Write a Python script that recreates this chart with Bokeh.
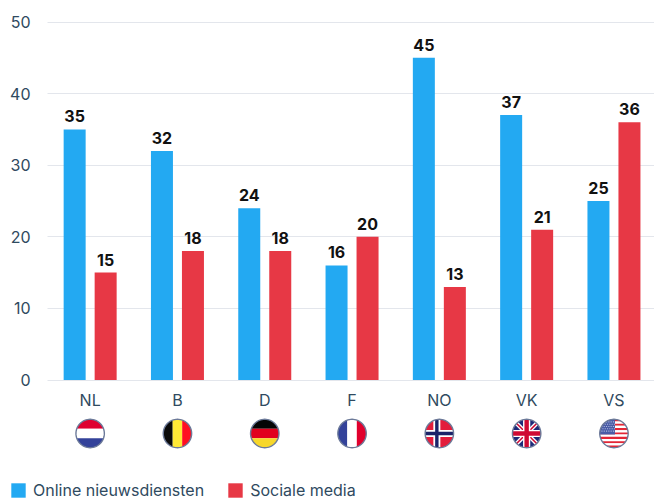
import math
from bokeh.core.properties import value
from bokeh.embed import file_html
from bokeh.resources import INLINE
from bokeh.plotting import figure
from bokeh.transform import dodge
from bokeh.models import (ColumnDataSource, Range1d, FixedTicker, Legend, LegendItem, LabelSet)

categories = ["NL", "B", "D", "F", "NO", "VK", "VS"]
online = [35, 32, 24, 16, 45, 37, 25]
social = [15, 18, 18, 20, 13, 21, 36]
y_ticks = [0, 10, 20, 30, 40, 50]
series_names = ["Online nieuwsdiensten", "Sociale media"]

BLUE = "#23A9F2"
RED = "#E73845"
INK = "#2F4A60"
FONT = "Inter"

W, H = 654, 499
PLOT_LEFT, BAND_LEFT, PLOT_TOP, PLOT_BOTTOM = 47, 46, 21.5, 379.5
STEP = 87.3
PX_PER_UNIT = (PLOT_BOTTOM - PLOT_TOP) / 50
x_idx = list(range(len(categories)))
x_start = -0.5 - BAND_LEFT / STEP
x_end = (W - BAND_LEFT) / STEP - 0.5
x_plot = x_start + PLOT_LEFT / STEP

p = figure(width=W, height=H, output_backend="svg", toolbar_location=None,
           x_range=Range1d(x_start, x_end),
           y_range=Range1d(-(H - PLOT_BOTTOM) / PX_PER_UNIT, 50 + PLOT_TOP / PX_PER_UNIT),
           min_border_left=0, min_border_right=0, min_border_top=0, min_border_bottom=0,
           outline_line_color=None, background_fill_color="white")
p.extra_x_ranges["px"] = Range1d(0, W)
p.extra_y_ranges["px"] = Range1d(H, 0)

src = ColumnDataSource(dict(x=x_idx, online=online, social=social,
                            on=[str(v) for v in online], so=[str(v) for v in social]))
OFFSET = 15.5 / STEP
BW = 22 / STEP
r1 = p.vbar(x=dodge("x", -OFFSET, range=p.x_range), top="online", width=BW, source=src,
            fill_color=BLUE, line_color=None)
r2 = p.vbar(x=dodge("x", OFFSET, range=p.x_range), top="social", width=BW, source=src,
            fill_color=RED, line_color=None)

for field, txt, off in (("online", "on", -OFFSET), ("social", "so", OFFSET)):
    p.add_layout(LabelSet(x=dodge("x", off, range=p.x_range), y=field, text=txt, source=src,
                          y_offset=7, text_align="center", text_baseline="bottom",
                          text_font=value(FONT), text_font_size="16px", text_font_style="bold",
                          text_color="#111111"))

p.xgrid.visible = False
p.ygrid.grid_line_color = "#E3E6EC"
p.ygrid.grid_line_width = 1
p.ygrid.ticker = FixedTicker(ticks=y_ticks)
p.ygrid.cross_bounds = (x_plot, x_end)

p.yaxis.fixed_location = x_plot
p.yaxis.ticker = FixedTicker(ticks=y_ticks)
p.yaxis.axis_line_color = None
p.yaxis.major_tick_line_color = None
p.yaxis.minor_tick_line_color = None
p.yaxis.major_label_text_font = FONT
p.yaxis.major_label_text_font_size = "16px"
p.yaxis.major_label_text_color = INK
p.yaxis.major_label_standoff = 11

p.xaxis.fixed_location = 0
p.xaxis.ticker = FixedTicker(ticks=x_idx)
p.xaxis.major_label_overrides = dict(zip(x_idx, categories))
p.xaxis.axis_line_color = None
p.xaxis.major_tick_line_color = None
p.xaxis.minor_tick_line_color = None
p.xaxis.major_label_text_font = FONT
p.xaxis.major_label_text_font_size = "16px"
p.xaxis.major_label_text_color = INK
p.xaxis.major_label_standoff = 4

# ---- flags: decorative pictograms, drawn in pixel space around each category centre
CY = 433
R = 14.2
N = 64
CIRCLE = [(R * math.cos(2 * math.pi * i / N), R * math.sin(2 * math.pi * i / N)) for i in range(N)]


def clip(poly):
    """Sutherland-Hodgman clip of a polygon to the flag's circle."""
    out = poly
    for i in range(N):
        ax, ay = CIRCLE[i]
        bx, by = CIRCLE[(i + 1) % N]
        side = lambda q: (bx - ax) * (q[1] - ay) - (by - ay) * (q[0] - ax)
        res = []
        for j in range(len(out)):
            c, d = out[j], out[(j + 1) % len(out)]
            sc, sd = side(c), side(d)
            if sc >= 0:
                res.append(c)
            if sc * sd < 0:
                t = sc / (sc - sd)
                res.append((c[0] + t * (d[0] - c[0]), c[1] + t * (d[1] - c[1])))
        out = res
        if not out:
            break
    return out


def rect(x0, y0, x1, y1):
    return [(x0, y0), (x1, y0), (x1, y1), (x0, y1)]


def band(x0, y0, x1, y1, w):
    dx, dy = x1 - x0, y1 - y0
    n = math.hypot(dx, dy)
    ox, oy = -dy / n * w / 2, dx / n * w / 2
    return [(x0 + ox, y0 + oy), (x1 + ox, y1 + oy), (x1 - ox, y1 - oy), (x0 - ox, y0 - oy)]


r = 16
vs_stripes = []
sh = 2 * R / 13
for i in range(13):
    vs_stripes.append((rect(-r, -R + i * sh, r, -R + (i + 1) * sh), "#E32636" if i % 2 == 0 else "#FFFFFF"))
stars = []
for row in range(5):
    for col in range(6):
        sx = -R + 2.2 + col * 2.3 + (row % 2) * 1.0
        sy = -R + 2.6 + row * 2.3
        stars.append((rect(sx - 0.55, sy - 0.55, sx + 0.55, sy + 0.55), "#AEB8DC"))

FLAGS = {
    "NL": [(rect(-r, -r, r, -R / 3), "#DF0030"), (rect(-r, -R / 3, r, R / 3), "#FFFFFF"), (rect(-r, R / 3, r, r), "#33429A")],
    "B": [(rect(-r, -r, -R / 3, r), "#0A0A0A"), (rect(-R / 3, -r, R / 3, r), "#FFE936"), (rect(R / 3, -r, r, r), "#FF0F21")],
    "D": [(rect(-r, -r, r, -R / 3), "#050505"), (rect(-r, -R / 3, r, R / 3), "#E1001E"), (rect(-r, R / 3, r, r), "#F7D72A")],
    "F": [(rect(-r, -r, -R / 3, r), "#33429A"), (rect(-R / 3, -r, R / 3, r), "#FFFFFF"), (rect(R / 3, -r, r, r), "#E1002D")],
    "NO": [(rect(-r, -r, r, r), "#E31D3C"),
           (rect(-6, -r, 1, r), "#FFFFFF"), (rect(-r, -3.5, r, 3.5), "#FFFFFF"),
           (rect(-4.2, -r, -0.8, r), "#1B2369"), (rect(-r, -1.7, r, 1.7), "#1B2369")],
    "VK": [(rect(-r, -r, r, r), "#1E2A78"),
           (band(-r, -r, r, r, 4.2), "#FFFFFF"), (band(-r, r, r, -r, 4.2), "#FFFFFF"),
           (band(-r, -r, r, r, 1.6), "#CF0A33"), (band(-r, r, r, -r, 1.6), "#CF0A33"),
           (rect(-3.6, -r, 3.6, r), "#FFFFFF"), (rect(-r, -3.6, r, 3.6), "#FFFFFF"),
           (rect(-2.2, -r, 2.2, r), "#CF0A33"), (rect(-r, -2.2, r, 2.2), "#CF0A33")],
    "VS": vs_stripes + [(rect(-r, -r, 1.0, -R + 7 * sh), "#4A5CA6")] + stars,
}

xs, ys, cols = [], [], []
for i, cat in enumerate(categories):
    cx = BAND_LEFT + (i + 0.5) * STEP
    for poly, col in FLAGS[cat]:
        pts = clip(poly)
        if len(pts) >= 3:
            xs.append([cx + q[0] for q in pts])
            ys.append([CY + q[1] for q in pts])
            cols.append(col)
p.patches(xs, ys, fill_color=cols, line_color=None, x_range_name="px", y_range_name="px")
p.patches([[BAND_LEFT + (i + 0.5) * STEP + q[0] for q in CIRCLE] for i in x_idx],
          [[CY + q[1] for q in CIRCLE] for i in x_idx],
          fill_alpha=0, line_color="#6C7A99", line_width=1.4, x_range_name="px", y_range_name="px")

legend = Legend(items=[LegendItem(label=series_names[0], renderers=[r1]),
                       LegendItem(label=series_names[1], renderers=[r2])],
                orientation="horizontal", location=(9, -1), border_line_color=None,
                background_fill_alpha=0, margin=0, padding=0, spacing=22,
                glyph_width=18, glyph_height=18, label_height=18, label_standoff=6,
                label_text_font=FONT, label_text_font_size="16px", label_text_color=INK)
p.add_layout(legend, "center")

open("out.html", "w").write(file_html(p, INLINE))
